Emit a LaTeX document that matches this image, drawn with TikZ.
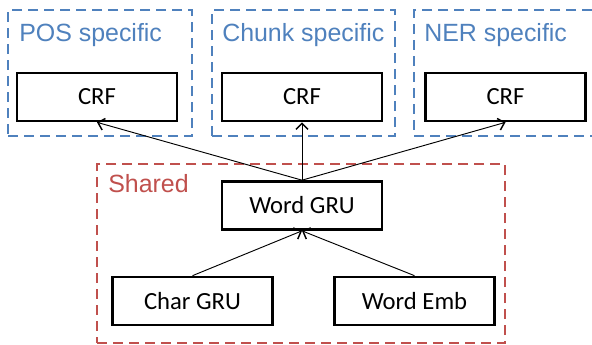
\documentclass[tikz,border=0pt]{standalone}
\usepackage{fontspec}
\setmainfont{Carlito}
\newfontfamily\arialfont{Liberation Sans}
\usetikzlibrary{arrows.meta}
\definecolor{taskblue}{RGB}{79,129,189}
\definecolor{sharedred}{RGB}{192,80,77}

\begin{document}
\begin{tikzpicture}[x=0.75pt,y=-0.75pt,
	layer/.style={draw,line width=2pt,minimum width=120pt,minimum height=36pt,inner sep=0pt,font=\fontsize{18.5}{20}\selectfont},
	group/.style={draw=#1,line width=2pt,dash pattern=on 7.5pt off 4.5pt,inner sep=0pt},
	grouplabel/.style={anchor=base west,inner sep=0pt,text=#1,font=\arialfont\fontsize{18.7}{20}\selectfont},
	feed/.style={line width=0.7pt,-{Straight Barb[length=4.5pt,width=9pt,line width=1.1pt]}}]
	\useasboundingbox (0,0) rectangle (592,344);
	
	% task specific groups
	\node [group=taskblue,minimum width=138pt,minimum height=94.5pt] (posgroup) at (100,73) {};
	\node [group=taskblue,minimum width=137.25pt,minimum height=94.5pt] (chunkgroup) at (303.5,73) {};
	\node [group=taskblue,minimum width=139.5pt,minimum height=94.5pt] (nergroup) at (507,73) {};
	\node [grouplabel=taskblue] (poslabel) at (19,41) {POS specific};
	\node [grouplabel=taskblue] (chunklabel) at (222,41) {Chunk specific};
	\node [grouplabel=taskblue] (nerlabel) at (424,41) {NER specific};
	
	% shared group
	\node [group=sharedred,minimum width=306pt,minimum height=134.25pt] (sharedgroup) at (301,253.5) {};
	\node [grouplabel=sharedred] (sharedlabel) at (108,192) {Shared};
	
	\node [layer] (poscrf) at (97,97) {CRF};
	\node [layer] (chunkcrf) at (302,97) {CRF};
	\node [layer] (nercrf) at (505.5,97) {CRF};
	\node [layer] (wordgru) at (302,205.5) {Word GRU};
	\node [layer] (chargru) at (192.5,301) {Char GRU};
	\node [layer] (wordemb) at (414.5,301) {Word Emb};
	
	\draw [feed] (wordgru.north) -- (poscrf.south);
	\draw [feed] (wordgru.north) -- (chunkcrf.south);
	\draw [feed] (wordgru.north) -- (nercrf.south);
	\draw [feed] (chargru.north) -- (wordgru.south);
	\draw [feed] (wordemb.north) -- (wordgru.south);
	
\end{tikzpicture}
\end{document}
